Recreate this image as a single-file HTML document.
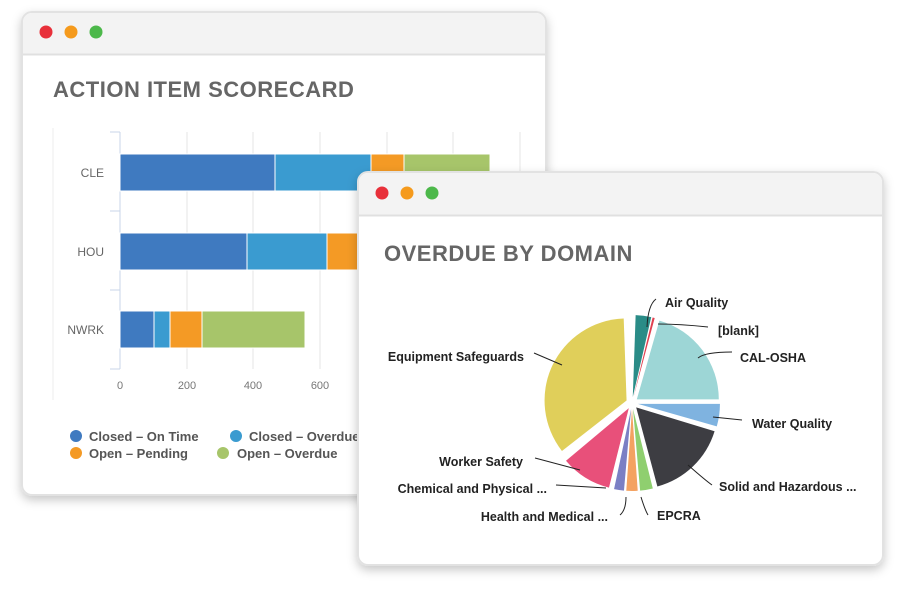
<!DOCTYPE html>
<html><head><meta charset="utf-8"><style>
body{margin:0;background:#fff;width:904px;height:586px;overflow:hidden;font-family:"Liberation Sans",sans-serif}
</style></head><body>
<svg id="s" width="904" height="586" viewBox="0 0 904 586" xmlns="http://www.w3.org/2000/svg">
<defs>
<filter id="sh" x="-10%" y="-10%" width="120%" height="125%"><feDropShadow dx="0" dy="4" stdDeviation="5" flood-color="#000" flood-opacity="0.22"/></filter>
</defs>
<!-- left window -->
<rect x="22" y="12" width="524" height="483" rx="10" fill="#fff" stroke="#e2e2e2" stroke-width="2" filter="url(#sh)"/>
<path d="M23 54 V22 a9 9 0 0 1 9 -9 H536 a9 9 0 0 1 9 9 V54 Z" fill="#f3f3f3"/>
<line x1="23" y1="54.5" x2="545" y2="54.5" stroke="#e0e0e0" stroke-width="2"/>
<circle cx="46" cy="32" r="6.5" fill="#e8303a"/><circle cx="71" cy="32" r="6.5" fill="#f59a1c"/><circle cx="96" cy="32" r="6.5" fill="#4cb84a"/>
<text x="53" y="97" font-size="22" font-weight="bold" fill="#666" letter-spacing="0.5">ACTION ITEM SCORECARD</text>
<line x1="53" y1="128" x2="53" y2="400" stroke="#eee"/>
<g stroke="#e6e6e6">
<line x1="187" y1="132" x2="187" y2="369"/><line x1="253" y1="132" x2="253" y2="369"/><line x1="320" y1="132" x2="320" y2="369"/><line x1="387" y1="132" x2="387" y2="369"/><line x1="453" y1="132" x2="453" y2="369"/><line x1="520" y1="132" x2="520" y2="369"/>
</g>
<g stroke="#c8d6e8"><line x1="120" y1="132" x2="120" y2="369"/><line x1="110" y1="132" x2="120" y2="132"/><line x1="110" y1="211" x2="120" y2="211"/><line x1="110" y1="290" x2="120" y2="290"/><line x1="110" y1="369" x2="120" y2="369"/></g>
<g font-size="12" fill="#666" text-anchor="end"><text x="104" y="177">CLE</text><text x="104" y="256">HOU</text><text x="104" y="334">NWRK</text></g>
<g font-size="11" fill="#777" text-anchor="middle"><text x="120" y="389">0</text><text x="187" y="389">200</text><text x="253" y="389">400</text><text x="320" y="389">600</text></g>
<g stroke="#fff" stroke-width="1">
<rect x="120" y="154" width="155" height="37" fill="#3f7ac0"/><rect x="275" y="154" width="96" height="37" fill="#3a9bd0"/><rect x="371" y="154" width="33" height="37" fill="#f49a25"/><rect x="404" y="154" width="86" height="37" fill="#a7c56a"/>
<rect x="120" y="233" width="127" height="37" fill="#3f7ac0"/><rect x="247" y="233" width="80" height="37" fill="#3a9bd0"/><rect x="327" y="233" width="60" height="37" fill="#f49a25"/>
<rect x="120" y="311" width="34" height="37" fill="#3f7ac0"/><rect x="154" y="311" width="16" height="37" fill="#3a9bd0"/><rect x="170" y="311" width="32" height="37" fill="#f49a25"/><rect x="202" y="311" width="103" height="37" fill="#a7c56a"/>
</g>
<g font-size="13" font-weight="bold" fill="#555">
<circle cx="76" cy="436" r="6" fill="#3f7ac0"/><text x="89" y="441">Closed – On Time</text>
<circle cx="236" cy="436" r="6" fill="#3a9bd0"/><text x="249" y="441">Closed – Overdue</text>
<circle cx="76" cy="453" r="6" fill="#f49a25"/><text x="89" y="458">Open – Pending</text>
<circle cx="223" cy="453" r="6" fill="#a7c56a"/><text x="237" y="458">Open – Overdue</text>
</g>
<!-- right window -->
<rect x="358" y="172" width="525" height="393" rx="10" fill="#fff" stroke="#e2e2e2" stroke-width="2" filter="url(#sh)"/>
<path d="M359 215 V182 a9 9 0 0 1 9 -9 H873 a9 9 0 0 1 9 9 V215 Z" fill="#f3f3f3"/>
<line x1="359" y1="215.5" x2="882" y2="215.5" stroke="#e0e0e0" stroke-width="2"/>
<circle cx="382" cy="193" r="6.5" fill="#e8303a"/><circle cx="407" cy="193" r="6.5" fill="#f59a1c"/><circle cx="432" cy="193" r="6.5" fill="#4cb84a"/>
<text x="384" y="261" font-size="22" font-weight="bold" fill="#666" letter-spacing="0.5">OVERDUE BY DOMAIN</text>
<g id="pie"></g>
<g fill="none" stroke="#222" stroke-width="1">
<path d="M647 327 Q648 305 656 299"/><path d="M658 324 Q680 324 708 327"/><path d="M698 358 Q705 352 732 352"/>
<path d="M713 417 L742 420"/><path d="M688 465 Q705 480 712 485"/><path d="M641 497 Q645 510 648 515"/>
<path d="M626 497 Q626 510 620 515"/><path d="M606 488 L556 485"/><path d="M580 470 L535 458"/><path d="M562 365 L534 353"/>
</g>
<g font-size="12.5" font-weight="bold" fill="#222">
<text x="665" y="307">Air Quality</text><text x="718" y="335">[blank]</text><text x="740" y="362">CAL-OSHA</text>
<text x="752" y="428">Water Quality</text><text x="719" y="491">Solid and Hazardous ...</text><text x="657" y="520">EPCRA</text>
<text x="608" y="521" text-anchor="end">Health and Medical ...</text><text x="547" y="493" text-anchor="end">Chemical and Physical ...</text>
<text x="523" y="466" text-anchor="end">Worker Safety</text><text x="524" y="361" text-anchor="end">Equipment Safeguards</text>
</g>
</svg>
<script>
var cx=632,cy=403,r=82,off=6;
var sl=[[2,13,"#2a8c87"],[13.5,15,"#e04050"],[16,90,"#9dd6d6"],[90,106,"#7fb3e0"],[107,165,"#3d3d42"],[166,175,"#8fcf6f"],[176,184,"#f4a261"],[185,192,"#7b7fc4"],[194,230,"#e8507a"],[232,358,"#e0cf5a"]];
var g=document.getElementById("pie"),h="";
function p(a,rr,ox,oy){var t=(a-90)*Math.PI/180;return [ox+rr*Math.cos(t),oy+rr*Math.sin(t)];}
sl.forEach(function(s){var m=(s[0]+s[1])/2;var o=p(m,off,cx,cy);var a=p(s[0],r,o[0],o[1]),b=p(s[1],r,o[0],o[1]);
h+='<path d="M'+o[0]+' '+o[1]+' L'+a[0]+' '+a[1]+' A'+r+' '+r+' 0 '+((s[1]-s[0])>180?1:0)+' 1 '+b[0]+' '+b[1]+' Z" fill="'+s[2]+'"/>';});
g.innerHTML=h;
</script>
</body></html>
